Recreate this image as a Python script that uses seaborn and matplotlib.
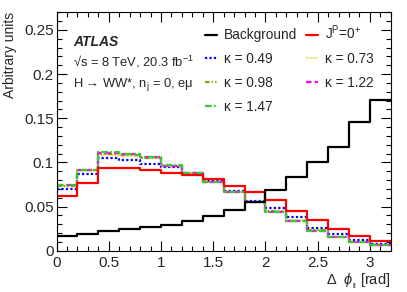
import pandas as pd
import matplotlib
matplotlib.use("Agg")
import matplotlib.pyplot as plt
from matplotlib.lines import Line2D
from matplotlib.ticker import MultipleLocator
import seaborn as sns

# bin edges of delta phi_ll [rad]
edges = [round(0.2 * i, 2) for i in range(17)]
centers = [(a + b) / 2 for a, b in zip(edges[:-1], edges[1:])]

background = [0.0168, 0.0193, 0.0218, 0.0244, 0.0268, 0.0295, 0.0337, 0.0392,
              0.0459, 0.0553, 0.0684, 0.0840, 0.1000, 0.1175, 0.1455, 0.1710]
jp_0plus = [0.0622, 0.0762, 0.0937, 0.0935, 0.0917, 0.0880, 0.0853, 0.0807,
            0.0732, 0.0660, 0.0575, 0.0455, 0.0345, 0.0247, 0.0171, 0.0114]
k049 = [0.0700, 0.0868, 0.1050, 0.1030, 0.0985, 0.0943, 0.0875, 0.0784,
        0.0678, 0.0565, 0.0480, 0.0386, 0.0261, 0.0186, 0.0122, 0.0080]
k073 = [0.0728, 0.0900, 0.1084, 0.1075, 0.1045, 0.0958, 0.0878, 0.0782,
        0.0666, 0.0556, 0.0450, 0.0343, 0.0232, 0.0160, 0.0102, 0.0068]
k098 = [0.0738, 0.0910, 0.1100, 0.1085, 0.1055, 0.0962, 0.0877, 0.0780,
        0.0664, 0.0554, 0.0445, 0.0339, 0.0229, 0.0157, 0.0100, 0.0066]
k122 = [0.0743, 0.0915, 0.1107, 0.1090, 0.1060, 0.0964, 0.0876, 0.0779,
        0.0663, 0.0553, 0.0443, 0.0337, 0.0227, 0.0156, 0.0099, 0.0065]
k147 = [0.0746, 0.0918, 0.1118, 0.1093, 0.1063, 0.0966, 0.0875, 0.0778,
        0.0662, 0.0552, 0.0441, 0.0335, 0.0225, 0.0154, 0.0098, 0.0064]

sns.set_style("ticks")
plt.rcParams["font.family"] = ["Liberation Sans", "DejaVu Sans"]
plt.rcParams["mathtext.fontset"] = "custom"
plt.rcParams["mathtext.rm"] = "Liberation Sans"
plt.rcParams["mathtext.it"] = "Liberation Sans:italic"
plt.rcParams["mathtext.bf"] = "Liberation Sans:bold"

fig = plt.figure(figsize=(4.07, 2.92), dpi=100)
ax = fig.add_axes([0.139, 0.1414, 0.821, 0.8166])

series = [
    ("Background", background, "black", "-", 1.6),
    ("J$^{\\mathrm{P}}$=0$^{+}$", jp_0plus, "#ff0000", "-", 1.6),
    ("κ = 0.49", k049, "#0000ff", (0, (1, 1)), 1.6),
    ("κ = 0.73", k073, "#ffcc44", (0, (0.6, 0.6)), 1.4),
    ("κ = 0.98", k098, "#999900", (0, (2, 1, 0.6, 1, 0.6, 1)), 1.6),
    ("κ = 1.22", k122, "#ff00ff", (0, (2.5, 1.5)), 1.6),
    ("κ = 1.47", k147, "#33cc33", (0, (3, 1, 0.8, 1)), 1.6),
]

# draw the κ curves first so black/red sit on top
order = [2, 3, 4, 5, 6, 1, 0]
for i in order:
    lab, vals, col, ls, lw = series[i]
    df = pd.DataFrame({"dphi": centers, "w": vals})
    sns.histplot(data=df, x="dphi", weights="w", bins=edges, element="step",
                 fill=False, color=col, linestyle=ls, linewidth=lw, ax=ax)

ax.set_xlim(0, 3.2)
ax.set_ylim(0, 0.27)
ax.xaxis.set_minor_locator(MultipleLocator(0.1))
ax.yaxis.set_minor_locator(MultipleLocator(0.01))
ax.set_yticks([0, 0.05, 0.1, 0.15, 0.2, 0.25])
ax.set_yticklabels(["0", "0.05", "0.1", "0.15", "0.2", "0.25"])
ax.set_xticks([0, 0.5, 1, 1.5, 2, 2.5, 3])
ax.set_xticklabels(["0", "0.5", "1", "1.5", "2", "2.5", "3"])
ax.tick_params(which="both", direction="in", top=True, right=True,
               labelsize=11, color="black", width=0.8)
ax.tick_params(axis="y", pad=2)
ax.tick_params(axis="x", pad=4)
ax.tick_params(which="major", length=7)
ax.tick_params(which="minor", length=3.5)
for s in ax.spines.values():
    s.set_linewidth(0.8)
    s.set_color("black")

ax.set_xlabel("$\\mathit{Δ}$  $\\mathit{\\phi}_{_{\\mathrm{ll}}}$ [rad]",
              fontsize=10.5, loc="right", labelpad=1)
ax.set_ylabel("Arbitrary units", fontsize=10, loc="top", labelpad=5)

ax.text(0.049, 0.877, "ATLAS", transform=ax.transAxes, fontsize=10,
        fontweight="bold", fontstyle="italic", va="center")
ax.text(0.049, 0.79, "√s = 8 TeV, 20.3 fb$^{-1}$", transform=ax.transAxes,
        fontsize=9.3, va="center")
ax.text(0.049, 0.695, "H → WW*, n$_{\\mathrm{j}}$ = 0, eμ", transform=ax.transAxes,
        fontsize=9.3, va="center")

handles = []
labels = []
for i in [0, 2, 4, 6, 1, 3, 5]:
    lab, vals, col, ls, lw = series[i]
    handles.append(Line2D([], [], color=col, linestyle=ls, linewidth=lw))
    labels.append(lab)
ax.legend(handles, labels, ncol=2, loc="upper left", bbox_to_anchor=(0.428, 0.975),
          frameon=False, fontsize=9.8, handlelength=0.9, handletextpad=0.5,
          columnspacing=0.6, labelspacing=0.72, borderaxespad=0)

ax.grid(False)
fig.savefig("out.png", dpi=100)
